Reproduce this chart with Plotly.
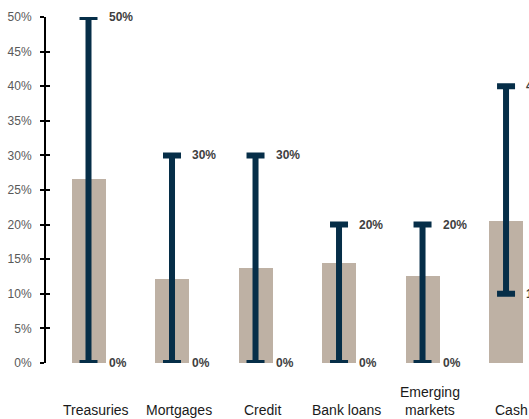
import plotly.graph_objects as go

categories = ["Treasuries", "Mortgages", "Credit", "Bank loans", "Emerging<br>markets", "Cash"]
current = [26.6, 12.1, 13.7, 14.5, 12.6, 20.5]
range_min = [0, 0, 0, 0, 0, 10]
range_max = [50, 30, 30, 20, 20, 40]
y_ticks = [0, 5, 10, 15, 20, 25, 30, 35, 40, 45, 50]

BAR = "#BEB1A4"
NAVY = "#062E48"
FONT = "Liberation Sans, Arial, sans-serif"

x_idx = list(range(len(categories)))

fig = go.Figure()
fig.add_trace(go.Bar(x=x_idx, y=current, marker=dict(color=BAR, line=dict(width=0)),
                     width=0.407, hoverinfo="skip"))
fig.add_trace(go.Scatter(
    x=x_idx, y=range_min, mode="markers", marker=dict(opacity=0, size=1),
    cliponaxis=False, hoverinfo="skip",
    error_y=dict(type="data", symmetric=False,
                 array=[mx - mn for mx, mn in zip(range_max, range_min)],
                 arrayminus=[0] * len(range_min),
                 thickness=6, width=9, color=NAVY)))
# dummy trace to make the secondary (inside-tick) axis render
fig.add_trace(go.Scatter(x=[None], y=[None], yaxis="y2", hoverinfo="skip", showlegend=False))

annotations = []
for i in x_idx:
    for v in (range_min[i], range_max[i]):
        annotations.append(dict(x=i, y=v, xref="x", yref="y", text=f"{v}%", showarrow=False,
                                xanchor="left", yanchor="middle", xshift=18,
                                font=dict(family=FONT, size=12, color="#404040", weight="bold")))
    annotations.append(dict(x=i, y=0, xref="x", yref="y", text=categories[i], showarrow=False,
                            xanchor="center", yanchor="bottom", yshift=-57,
                            xshift=5 if i == len(categories) - 1 else 7,
                            font=dict(family=FONT, size=14, color="#1a1a1a")))

fig.update_layout(
    width=529, height=419,
    margin=dict(l=46, r=0, t=17, b=56),
    paper_bgcolor="white", plot_bgcolor="white",
    showlegend=False,
    font=dict(family=FONT),
    bargap=0,
    xaxis=dict(range=[-0.509, 5.275], showticklabels=False, ticks="", showline=False,
               showgrid=False, zeroline=False, fixedrange=True),
    yaxis=dict(range=[0, 50], tickvals=y_ticks, ticktext=[f"{t}%" for t in y_ticks],
               ticks="outside", ticklen=4, tickwidth=2, tickcolor="black",
               showline=True, linecolor="black", linewidth=2,
               showgrid=False, zeroline=False,
               tickfont=dict(family=FONT, size=12, color="#595959"),
               ticklabelstandoff=6),
    yaxis2=dict(range=[0, 50], overlaying="y", side="left", tickvals=y_ticks,
                ticks="inside", ticklen=4, tickwidth=2, tickcolor="black",
                showticklabels=False, showline=False, showgrid=False, zeroline=False),
    annotations=annotations,
)

fig.write_html("out.html", config={"displayModeBar": False},
               post_script="document.body.style.margin='0';document.body.style.overflow='hidden';")
